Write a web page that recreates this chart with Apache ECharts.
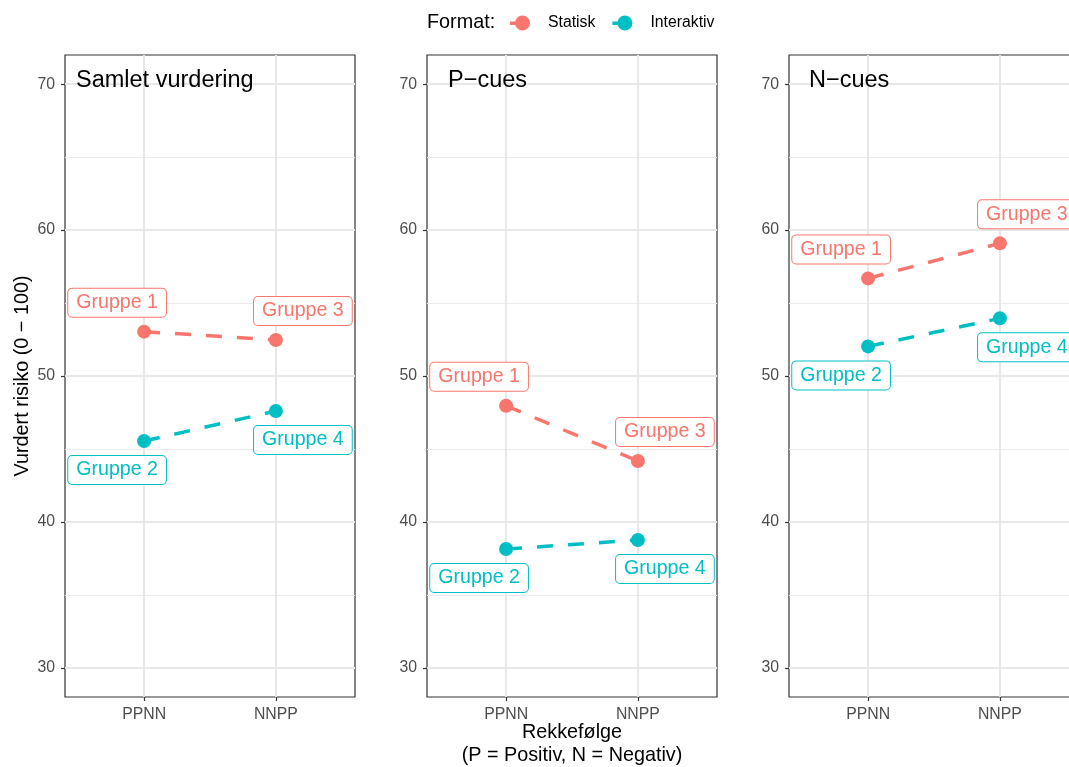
<!DOCTYPE html>
<html>
<head>
<meta charset="utf-8">
<script src="https://cdn.jsdelivr.net/npm/echarts@6/dist/echarts.min.js"></script>
<style>
  html, body { margin: 0; padding: 0; background: #fff; }
  #chart { width: 1069px; height: 767px; }
</style>
</head>
<body>
<div id="chart"></div>
<script>
// Panels, x categories and y ticks
const panelTitles = ['Samlet vurdering', 'P\u2212cues', 'N\u2212cues'];
const orderLabels = ['PPNN', 'NNPP'];
const yTicks = [30, 40, 50, 60, 70];
const yMinorTicks = [35, 45, 55, 65];
const formatNames = ['Statisk', 'Interaktiv'];

// Mean rated risk per panel, [PPNN, NNPP]
const statiskValues = [[53.04, 52.47], [47.96, 44.17], [56.69, 59.09]];
const interaktivValues = [[45.54, 47.60], [38.14, 38.76], [52.03, 53.95]];
const statiskGroups = ['Gruppe 1', 'Gruppe 3'];
const interaktivGroups = ['Gruppe 2', 'Gruppe 4'];

const FONT = 'Liberation Sans, Arial, Helvetica, sans-serif';
const RED = '#F8766D';
const TEAL = '#00BFC4';
const panelLefts = [65, 427, 789];
const panelTop = 55, panelW = 290, panelH = 642;

const grids = [], xAxes = [], yAxes = [], series = [];

panelLefts.forEach((left, gi) => {
  grids.push({
    left: left, top: panelTop, width: panelW, height: panelH,
    show: true, backgroundColor: '#fff', borderColor: '#333333', borderWidth: 1.2,
    containLabel: false, outerBoundsMode: 'none'
  });
  xAxes.push({
    type: 'value', gridIndex: gi, min: 0.4, max: 2.6,
    axisLine: { show: false },
    splitLine: { show: false },
    axisTick: { show: true, customValues: [1, 2], length: 4, lineStyle: { color: '#333333', width: 1.2 } },
    axisLabel: {
      customValues: [1, 2], margin: 10, color: '#4D4D4D', fontSize: 15.8, fontFamily: FONT,
      formatter: v => orderLabels[Math.round(v) - 1] || ''
    }
  });
  yAxes.push({
    type: 'value', gridIndex: gi, min: 28, max: 72,
    axisLine: { show: false },
    splitLine: { show: false },
    axisTick: { show: true, customValues: yTicks, length: 4, lineStyle: { color: '#333333', width: 1.2 } },
    axisLabel: { customValues: yTicks, margin: 10, color: '#4D4D4D', fontSize: 15.8, fontFamily: FONT }
  });

  // panel grid lines, kept beneath the data
  series.push({
    type: 'line', xAxisIndex: gi, yAxisIndex: gi, data: [], silent: true, z: 0,
    markLine: {
      z: 0, silent: true, symbol: ['none', 'none'], label: { show: false }, animation: false,
      lineStyle: { color: '#EBEBEB', type: 'solid', width: 2 },
      emphasis: { disabled: true },
      data: [
        ...yMinorTicks.map(v => ({ yAxis: v, lineStyle: { width: 1, color: '#EBEBEB', type: 'solid' } })),
        ...yTicks.map(v => ({ yAxis: v, lineStyle: { width: 2, color: '#E8E8E8', type: 'solid' } })),
        ...[1, 2].map(v => ({ xAxis: v, lineStyle: { width: 2, color: '#E8E8E8', type: 'solid' } }))
      ]
    }
  });

  const mk = (name, color, values, groups, dy) => ({
    type: 'line', name: name, xAxisIndex: gi, yAxisIndex: gi, z: 3,
    symbol: 'circle', symbolSize: 14,
    itemStyle: { color: color },
    lineStyle: { color: color, width: 3.5, type: [16, 15] },
    label: {
      show: true, position: 'inside', color: color, fontSize: 19.6, fontFamily: FONT,
      backgroundColor: '#fff', borderColor: color, borderWidth: 1, borderRadius: 4,
      padding: [4, 8], lineHeight: 20
    },
    emphasis: { disabled: true },
    data: values.map((v, i) => ({
      value: [i + 1, v],
      label: { formatter: groups[i], offset: [i === 0 ? -27 : 27, dy] }
    }))
  });
  series.push(mk(formatNames[0], RED, statiskValues[gi], statiskGroups, -29));
  series.push(mk(formatNames[1], TEAL, interaktivValues[gi], interaktivGroups, 29));
});

const panelTitleX = [76, 448, 809];
const graphics = panelTitles.map((t, i) => ({
  type: 'text', x: panelTitleX[i], y: 81, z: 10,
  style: { text: t, fontSize: 23.5, fontFamily: FONT, fill: '#000', textAlign: 'left', textVerticalAlign: 'middle' }
}));
graphics.push({
  type: 'text', x: 23, y: 376, rotation: Math.PI / 2, z: 10,
  style: { text: 'Vurdert risiko (0 \u2212 100)', fontSize: 19.8, fontFamily: FONT, fill: '#000', textAlign: 'center', textVerticalAlign: 'middle' }
});
graphics.push({
  type: 'text', x: 572, y: 733, z: 10,
  style: { text: 'Rekkefølge', fontSize: 19.8, fontFamily: FONT, fill: '#000', textAlign: 'center', textVerticalAlign: 'middle' }
});
graphics.push({
  type: 'text', x: 572, y: 756, z: 10,
  style: { text: '(P = Positiv, N = Negativ)', fontSize: 19.8, fontFamily: FONT, fill: '#000', textAlign: 'center', textVerticalAlign: 'middle' }
});
graphics.push({
  type: 'text', x: 427, y: 23, z: 10,
  style: { text: 'Format:', fontSize: 19.8, fontFamily: FONT, fill: '#000', textAlign: 'left', textVerticalAlign: 'middle' }
});

// legend key: short line stub with a dot
const keyIcon = 'path://M0,6 L12,6 L12,9.5 L0,9.5 Z M5,7.5 A7.5,7.5 0 1,1 20,7.5 A7.5,7.5 0 1,1 5,7.5 Z';

const option = {
  animation: false,
  backgroundColor: '#fff',
  grid: grids,
  xAxis: xAxes,
  yAxis: yAxes,
  legend: {
    data: formatNames.map(n => ({ name: n, icon: keyIcon })),
    left: 510, top: 15, padding: 0, orient: 'horizontal',
    itemWidth: 20, itemHeight: 15, itemGap: 17,
    selectedMode: false,
    textStyle: { fontSize: 15.8, fontFamily: FONT, color: '#000', padding: [0, 0, 0, 13] }
  },
  graphic: graphics,
  series: series
};

const chart = echarts.init(document.getElementById('chart'), null, { renderer: 'canvas' });
chart.setOption(option);
</script>
</body>
</html>
